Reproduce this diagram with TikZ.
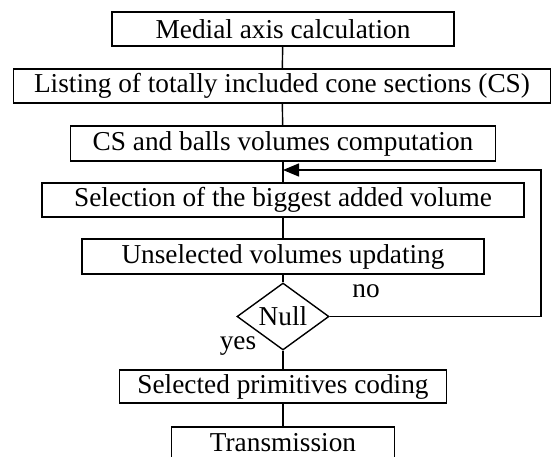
\documentclass[tikz,border=0pt]{standalone}
\usepackage{fontspec}
\setmainfont{Liberation Serif}
\usetikzlibrary{shapes.geometric,arrows.meta}
\begin{document}
\begin{tikzpicture}[x=1pt,y=-1pt,
  every node/.style={font=\fontsize{27.3}{31}\selectfont},
  stepbox/.style={draw,line width=1.4pt,inner sep=0pt,minimum height=34pt},
  decision/.style={draw,diamond,line width=1.4pt,inner sep=0pt,minimum width=92pt,minimum height=67pt,aspect=1.37},
  link/.style={line width=1.4pt},
  lbl/.style={inner sep=0pt}]
\useasboundingbox (0,0) rectangle (552,457);
\node[stepbox,minimum width=342pt] (b1) at (283,29) {Medial axis calculation};
\node[stepbox,minimum width=537pt] (b2) at (282,86) {Listing of totally included cone sections (CS)};
\node[stepbox,minimum width=425pt,minimum height=35pt] (b3) at (283,143.5) {CS and balls volumes computation};
\node[stepbox,minimum width=482pt] (b4) at (283,200) {Selection of the biggest added volume};
\node[stepbox,minimum width=402pt,minimum height=35pt] (b5) at (283,256.5) {Unselected volumes updating};
\node[decision] (d) at (283,316.5) {Null};
\node[stepbox,minimum width=327pt,minimum height=33pt] (b6) at (283,386.5) {Selected primitives coding};
\node[stepbox,minimum width=223pt,minimum height=31pt] (b7) at (283,442.5) {Transmission};
\node[lbl] (no) at (366,291) {no};
\node[lbl] (yes) at (238,346) {yes};
\coordinate (c1) at (541,316.5);
\coordinate (c2) at (541,170);
\coordinate (c3) at (283,170);
\draw[link] (b1) -- (b2);
\draw[link] (b2) -- (b3);
\draw[link] (b3) -- (b4);
\draw[link] (b4) -- (b5);
\draw[link] (b5) -- (d);
\draw[link] (d) -- (b6);
\draw[link] (b6) -- (b7);
\draw[link,-{Triangle[length=16pt,width=13pt]}] (d.east) -- (c1) -- (c2) -- (c3);
\end{tikzpicture}
\end{document}
